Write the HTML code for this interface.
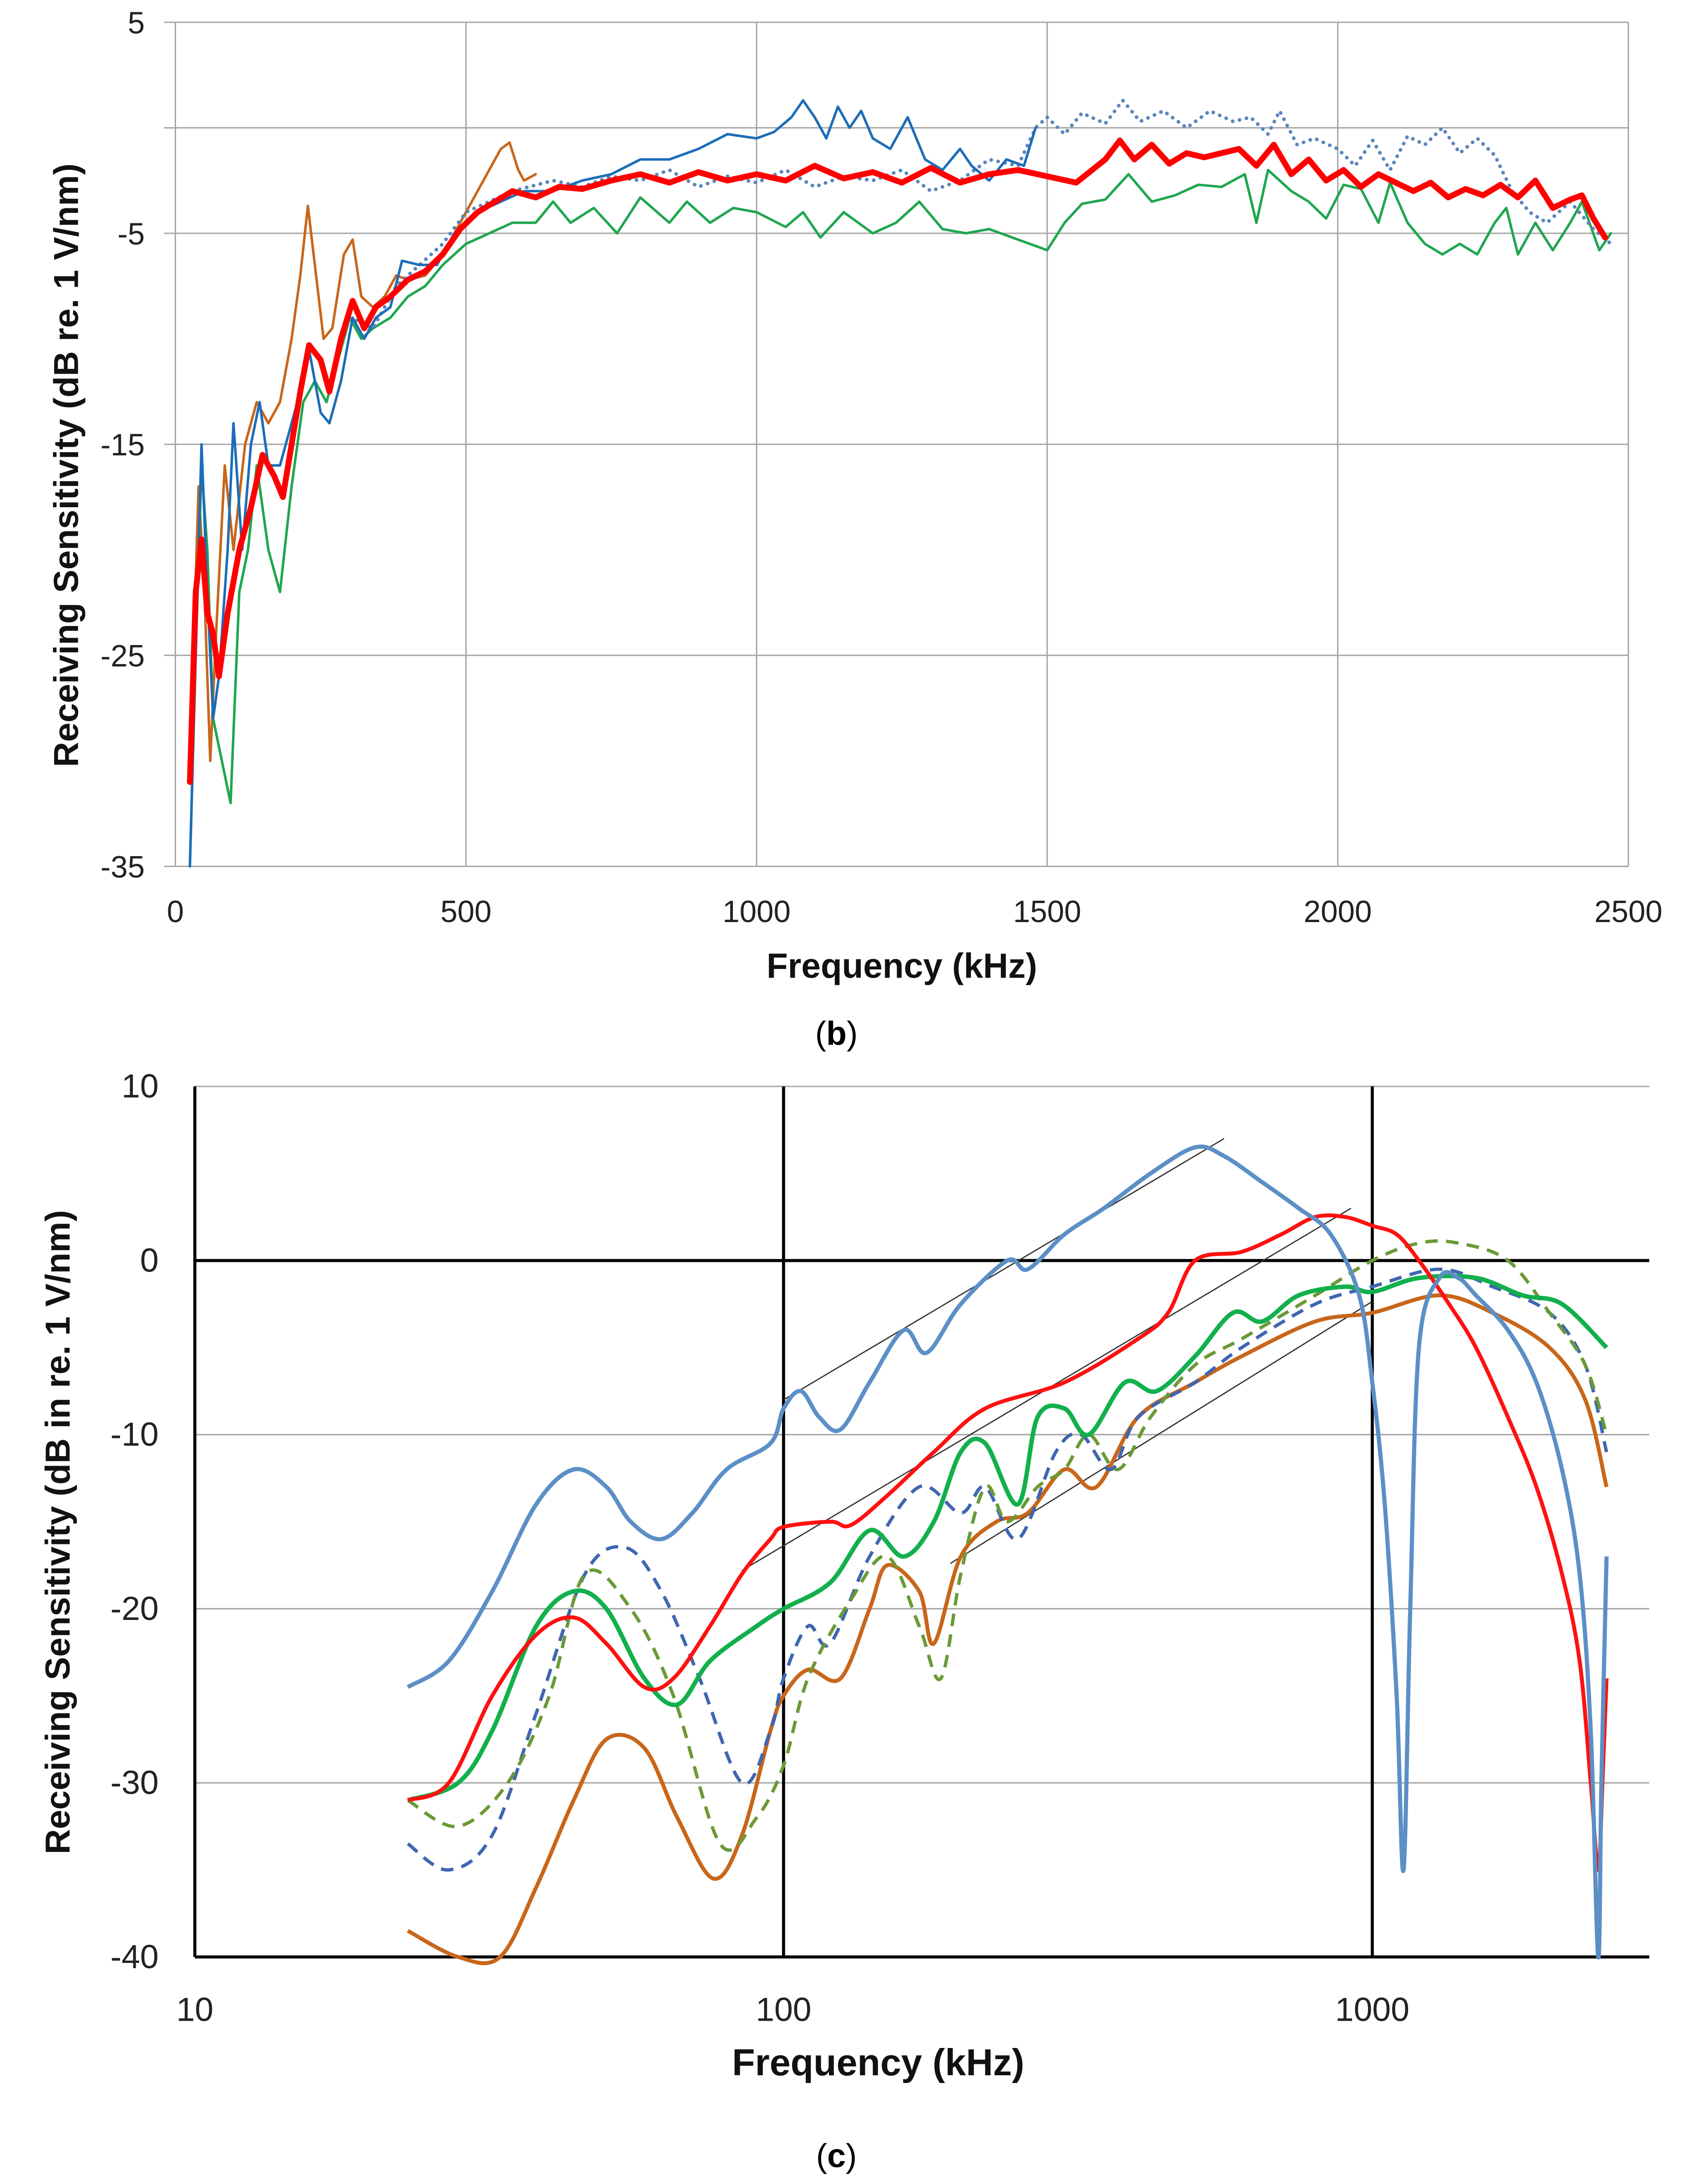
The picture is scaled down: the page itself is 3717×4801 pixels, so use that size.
<!DOCTYPE html>
<html><head><meta charset="utf-8"><style>
html,body{margin:0;padding:0;background:#fff;}
svg{display:block;}
text{font-family:"Liberation Sans",sans-serif;}
</style></head><body>
<svg id="fig" width="3717" height="4801" viewBox="0 0 1215 1568" preserveAspectRatio="none" xmlns="http://www.w3.org/2000/svg">
<g id="top"></g>
<g id="bot"></g>
<text x="601" y="750" font-family="Liberation Serif" font-size="24" text-anchor="middle">(<tspan font-weight="bold">b</tspan>)</text>
<text x="601" y="1556" font-family="Liberation Serif" font-size="24" text-anchor="middle">(<tspan font-weight="bold">c</tspan>)</text>
</svg>
<script>
// ---------- Chart (b) data ----------
const bTicksX = [0,500,1000,1500,2000,2500];
const bTicksY = [5,-5,-15,-25,-35];
const bGridY = [5,0,-5,-15,-25,-35];
const bRedF = [25,35,45,55,65,75,90,110,130,150,170,185,200,215,230,250,265,285,305,325,345,370,400,430,460,490,520,550,580,620,660,700,750,800,850,900,950,1000,1050,1100,1150,1200,1250,1300,1350,1400,1450,1500,1550,1600,1625,1650,1680,1710,1740,1770,1800,1830,1860,1890,1920,1950,1980,2010,2040,2070,2100,2130,2160,2190,2220,2250,2280,2310,2340,2370,2400,2420,2440,2460];
const bRedV = [-31,-22,-19.5,-23,-24,-26,-23,-20,-18,-15.5,-16.5,-17.5,-15,-12.5,-10.3,-11,-12.5,-10,-8.2,-9.5,-8.5,-8,-7.2,-6.8,-6,-4.8,-4,-3.5,-3,-3.3,-2.8,-2.9,-2.5,-2.2,-2.6,-2.1,-2.5,-2.2,-2.5,-1.8,-2.4,-2.1,-2.6,-1.9,-2.6,-2.2,-2,-2.3,-2.6,-1.5,-0.6,-1.5,-0.8,-1.7,-1.2,-1.4,-1.2,-1,-1.8,-0.8,-2.2,-1.5,-2.5,-2,-2.8,-2.2,-2.6,-3,-2.6,-3.3,-2.9,-3.2,-2.7,-3.3,-2.5,-3.8,-3.4,-3.2,-4.3,-5.2];
const bBlueF = [25,35,45,55,65,75,90,100,115,130,145,160,180,200,215,230,250,265,285,305,325,345,370,390,420,450,480,520,560,600,650,700,750,800,850,900,950,1000,1030,1060,1080,1100,1120,1140,1160,1180,1200,1230,1260,1290,1320,1350,1370,1400,1430,1460,1480];
const bBlueV = [-35,-25,-15,-22,-28,-26,-20,-14,-20,-15,-13,-16,-16,-14,-12.5,-10.5,-13.5,-14,-12,-9,-10,-9,-8.5,-6.3,-6.5,-6.5,-5,-4,-3.5,-3,-3,-2.5,-2.2,-1.5,-1.5,-1,-0.3,-0.5,-0.2,0.5,1.3,0.5,-0.5,1,0,0.8,-0.5,-1,0.5,-1.5,-2,-1,-1.8,-2.5,-1.5,-1.8,0];
const bDotF = [300,340,380,420,460,500,540,580,650,700,750,800,850,900,950,1000,1050,1100,1150,1200,1250,1300,1350,1400,1450,1480,1500,1530,1560,1600,1630,1660,1700,1740,1780,1820,1850,1880,1900,1930,1960,2000,2030,2060,2090,2120,2150,2180,2210,2240,2270,2300,2330,2360,2400,2440,2470];
const bDotV = [-9,-9.5,-7.5,-6.5,-5.5,-4,-3.5,-3,-2.5,-2.8,-2.3,-2.5,-2,-2.8,-2.3,-2.6,-2,-2.8,-2.3,-2.5,-2,-3,-2.5,-1.5,-1.8,0,0.5,-0.3,0.7,0.2,1.3,0.3,0.8,0,0.8,0.3,0.5,-0.3,0.8,-0.8,-0.5,-1,-1.8,-0.6,-2,-0.4,-0.8,0,-1.2,-0.5,-1.3,-3,-4,-4.5,-3.5,-4.8,-5.5];
const bGreenF = [25,35,45,55,65,80,95,110,125,140,160,180,200,220,240,260,280,300,320,340,370,400,430,460,500,540,580,620,650,680,720,760,800,850,880,920,960,1000,1050,1080,1110,1150,1200,1240,1280,1320,1360,1400,1450,1500,1530,1560,1600,1640,1680,1720,1760,1800,1840,1860,1880,1920,1950,1980,2010,2040,2070,2090,2120,2150,2180,2210,2240,2270,2290,2310,2340,2370,2400,2420,2450,2470];
const bGreenV = [-35,-25,-16,-20,-28,-30,-32,-22,-20,-16,-20,-22,-17,-13,-12,-13,-11,-9,-10,-9.5,-9,-8,-7.5,-6.5,-5.5,-5,-4.5,-4.5,-3.5,-4.5,-3.8,-5,-3.3,-4.5,-3.5,-4.5,-3.8,-4,-4.7,-4,-5.2,-4,-5,-4.5,-3.5,-4.8,-5,-4.8,-5.3,-5.8,-4.5,-3.6,-3.4,-2.2,-3.5,-3.2,-2.7,-2.8,-2.2,-4.5,-2,-3,-3.5,-4.3,-2.7,-2.9,-4.5,-2.6,-4.5,-5.5,-6,-5.5,-6,-4.5,-3.8,-6,-4.5,-5.8,-4.5,-3.5,-5.8,-5];
const bOrangeF = [25,40,50,60,70,85,100,120,140,160,180,200,215,228,240,255,270,290,305,320,340,360,380,400,430,460,490,510,540,560,575,590,600,620];
const bOrangeV = [-30,-17,-22,-30,-24,-16,-20,-15,-13,-14,-13,-10,-7,-3.7,-6.5,-10,-9.5,-6,-5.3,-8,-8.5,-8,-7,-7.2,-7,-6,-4.5,-3.5,-2,-1,-0.7,-2,-2.5,-2.2];

// ---------- Chart (c) data ----------
const cTicksX = [10,100,1000];
const cTicksY = [10,0,-10,-20,-30,-40];
const cBlueF = [23,27,32,38,44,50,55,62,70,80,95,100,107,115,125,140,160,175,200,240,260,300,350,420,500,560,650,750,850,950,1000,1050,1100,1130,1160,1200,1300,1400,1500,1700,1900,2100,2250,2350,2420,2450,2500];
const cBlueV = [-24.5,-23,-19,-14,-12,-13,-15,-16,-14.5,-12,-10.5,-8.5,-7.5,-9,-9.7,-7,-4,-5.3,-2.5,0,-0.5,1.5,3,5,6.5,6,4.5,3,1.5,-2,-7,-14,-25,-35,-20,-5,-1,-1,-2,-4,-7,-12,-18,-27,-40,-30,-17];
const cRedF = [23,27,32,38,44,50,58,65,75,85,95,100,120,130,150,180,220,300,400,450,500,600,700,800,900,1000,1100,1200,1350,1500,1700,1900,2100,2250,2350,2420,2460,2500];
const cRedV = [-31,-30,-25,-21.5,-20.5,-22,-24.5,-24,-21,-18,-16,-15.3,-15,-15.2,-13.5,-11,-8.5,-7,-4.5,-3,0,0.5,1.5,2.5,2.5,2,1.5,0,-2.5,-5,-9,-13,-18,-23,-30,-35,-30,-24];
const cGreenF = [23,28,32,38,44,50,58,66,75,90,100,120,140,160,180,200,220,250,270,300,330,380,430,500,580,650,750,900,1000,1200,1500,1800,2100,2500];
const cGreenV = [-31,-30,-27,-21,-19,-20,-24,-25.5,-23,-21,-20,-18.5,-15.5,-17,-15,-11,-10.5,-14,-9,-8.5,-10,-7,-7.5,-5.5,-3,-3.5,-2,-1.5,-1.8,-1,-1,-2,-2.5,-5];
const cBlueDashF = [23,27,32,38,46,54,62,72,85,95,100,110,120,140,170,200,220,250,290,320,360,400,500,600,800,1000,1300,1600,2000,2300,2500];
const cBlueDashV = [-33.5,-35,-33,-26,-18,-16.5,-19,-24,-30,-27,-24,-21,-22,-17,-13,-14.5,-13,-16,-11,-10,-12,-9,-7,-5,-2.5,-1.5,-0.5,-1.5,-3,-6,-11];
const cGreenDashF = [23,28,34,40,46,55,65,78,90,100,110,130,150,170,185,200,220,240,270,300,330,370,420,500,600,800,1000,1200,1400,1700,2000,2300,2500];
const cGreenDashV = [-31,-32.5,-30,-25,-18,-20,-25,-33.5,-32,-29,-24,-19.5,-17,-21,-24,-18,-13,-15,-13,-12,-10,-12,-9,-6,-4.5,-2,0,1,1,0,-3,-6,-10];
const cOrangeF = [23,28,33,38,44,50,58,66,76,85,95,100,110,125,140,150,170,180,200,230,260,300,340,400,500,600,800,1000,1300,1600,2000,2300,2500];
const cOrangeV = [-38.5,-40,-40,-36,-31,-27.5,-28,-32,-35.5,-33,-27,-25,-23.5,-24,-20,-17.5,-19,-22,-17,-15,-14.5,-12,-13,-9,-7,-5.5,-3.5,-3,-2,-3,-5,-8,-13];
const cTrendF1 = [100,560];
const cTrendV1 = [-8,7];
const cTrendF2 = [85,920];
const cTrendV2 = [-17.8,3];
const cTrendF3 = [192,995];
const cTrendV3 = [-17.4,-2.4];

const NS = 'http://www.w3.org/2000/svg';
function mk(parent, tag, attrs, txt){
  const e = document.createElementNS(NS, tag);
  for (const k in attrs) e.setAttribute(k, attrs[k]);
  if (txt !== undefined) e.textContent = txt;
  parent.appendChild(e);
  return e;
}
function pathPoly(fs, vs, X, Y){
  return fs.map((f,i)=>(i?'L':'M')+X(f).toFixed(2)+','+Y(vs[i]).toFixed(2)).join('');
}
function pathSmooth(fs, vs, X, Y){
  const p = fs.map((f,i)=>[X(f),Y(vs[i])]);
  let d = 'M'+p[0][0].toFixed(2)+','+p[0][1].toFixed(2);
  for (let i=0;i<p.length-1;i++){
    const p0=p[Math.max(0,i-1)], p1=p[i], p2=p[i+1], p3=p[Math.min(p.length-1,i+2)];
    const c1=[p1[0]+(p2[0]-p0[0])/6, p1[1]+(p2[1]-p0[1])/6];
    const c2=[p2[0]-(p3[0]-p1[0])/6, p2[1]-(p3[1]-p1[1])/6];
    d += 'C'+c1[0].toFixed(2)+','+c1[1].toFixed(2)+' '+c2[0].toFixed(2)+','+c2[1].toFixed(2)+' '+p2[0].toFixed(2)+','+p2[1].toFixed(2);
  }
  return d;
}

// ---------- Chart (b) ----------
(function(){
  const g = document.getElementById('top');
  const X = f => 126 + f/2500*1044;
  const Y = v => 16 + (5 - v)/40*606;
  bTicksX.forEach(t=>{
    const l = mk(g,'line',{x1:X(t),x2:X(t),y1:16,y2:622,stroke:'#a6a6a6','stroke-width':1});
    
    
    const tx = mk(g,'text',{x:X(t),y:662,'font-size':22,'text-anchor':'middle',fill:'#222'},String(t));
    
    
  });
  bGridY.forEach(t=>{
    const l = mk(g,'line',{x1:118,x2:1170,y1:Y(t),y2:Y(t),stroke:'#a6a6a6','stroke-width':1});
    
    
  });
  bTicksY.forEach(t=>{
    const tx = mk(g,'text',{x:104,y:Y(t)+8,'font-size':22,'text-anchor':'end',fill:'#222'},String(t));
    
    
  });
  const xt = mk(g,'text',{x:648,y:702,'font-size':25,'font-weight':'bold','text-anchor':'middle',fill:'#111'},'Frequency  (kHz)');
  
  
  const yt = mk(g,'text',{x:0,y:0,'font-size':25,'font-weight':'bold','text-anchor':'middle',fill:'#111',transform:'translate(56,334) rotate(-90)'},'Receiving Sensitivity  (dB re. 1 V/nm)');
  
  
  const series = [
    [bOrangeF,bOrangeV,'#c8661a',1.8,null,'series-orange'],
    [bGreenF,bGreenV,'#1fa64f',1.8,null,'series-green'],
    [bDotF,bDotV,'#5a86bd',2.6,'0.1 5','series-blue-dotted'],
    [bBlueF,bBlueV,'#1c6db8',1.8,null,'series-blue'],
    [bRedF,bRedV,'#ff0000',4.2,null,'series-red-average']
  ];
  series.forEach(s=>{
    const a = {d:pathPoly(s[0],s[1],X,Y),fill:'none',stroke:s[2],'stroke-width':s[3],'stroke-linejoin':'round','stroke-linecap':'round'};
    if (s[4]) a['stroke-dasharray']=s[4];
    const p = mk(g,'path',a);
    
    
  });
})();

// ---------- Chart (c) ----------
(function(){
  const g = document.getElementById('bot');
  const X = f => 140 + (Math.log10(f)-1)*423;
  const Y = v => 780 + (10 - v)*12.5;
  cTicksY.forEach(t=>{
    const dark = (t===0||t===-40);
    const l = mk(g,'line',{x1:140,x2:1185,y1:Y(t),y2:Y(t),stroke:dark?'#000':'#a6a6a6','stroke-width':dark?2.2:1});
    
    
    const tx = mk(g,'text',{x:114,y:Y(t)+8,'font-size':24,'text-anchor':'end',fill:'#222'},String(t));
    
    
  });
  cTicksX.forEach(t=>{
    const l = mk(g,'line',{x1:X(t),x2:X(t),y1:780,y2:1405,stroke:'#000','stroke-width':2.2});
    
    
    const tx = mk(g,'text',{x:X(t),y:1451,'font-size':24,'text-anchor':'middle',fill:'#222'},String(t));
    
    
  });
  const xt = mk(g,'text',{x:631,y:1490,'font-size':27,'font-weight':'bold','text-anchor':'middle',fill:'#111'},'Frequency  (kHz)');
  
  
  const yt = mk(g,'text',{x:0,y:0,'font-size':25,'font-weight':'bold','text-anchor':'middle',fill:'#111',transform:'translate(50,1100) rotate(-90)'},'Receiving Sensitivity  (dB in re. 1 V/nm)');
  
  
  [[cTrendF1,cTrendV1,'trend-line-1'],[cTrendF2,cTrendV2,'trend-line-2'],[cTrendF3,cTrendV3,'trend-line-3']].forEach(s=>{
    const p = mk(g,'path',{d:pathPoly(s[0],s[1],X,Y),fill:'none',stroke:'#333','stroke-width':0.9});
    
    
  });
  const series = [
    [cOrangeF,cOrangeV,'#c8661a',2.8,null,'series-orange'],
    [cBlueDashF,cBlueDashV,'#3f66b0',2.4,'9 6','series-blue-dashed'],
    [cGreenDashF,cGreenDashV,'#6a9a35',2.4,'9 6','series-green-dashed'],
    [cGreenF,cGreenV,'#12b04c',3.2,null,'series-green'],
    [cRedF,cRedV,'#ff1010',2.8,null,'series-red'],
    [cBlueF,cBlueV,'#5b8fc6',3,null,'series-blue']
  ];
  series.forEach(s=>{
    const a = {d:pathSmooth(s[0],s[1],X,Y),fill:'none',stroke:s[2],'stroke-width':s[3],'stroke-linejoin':'round'};
    if (s[4]) a['stroke-dasharray']=s[4];
    const p = mk(g,'path',a);
    
    
  });
})();
</script>
</body></html>
